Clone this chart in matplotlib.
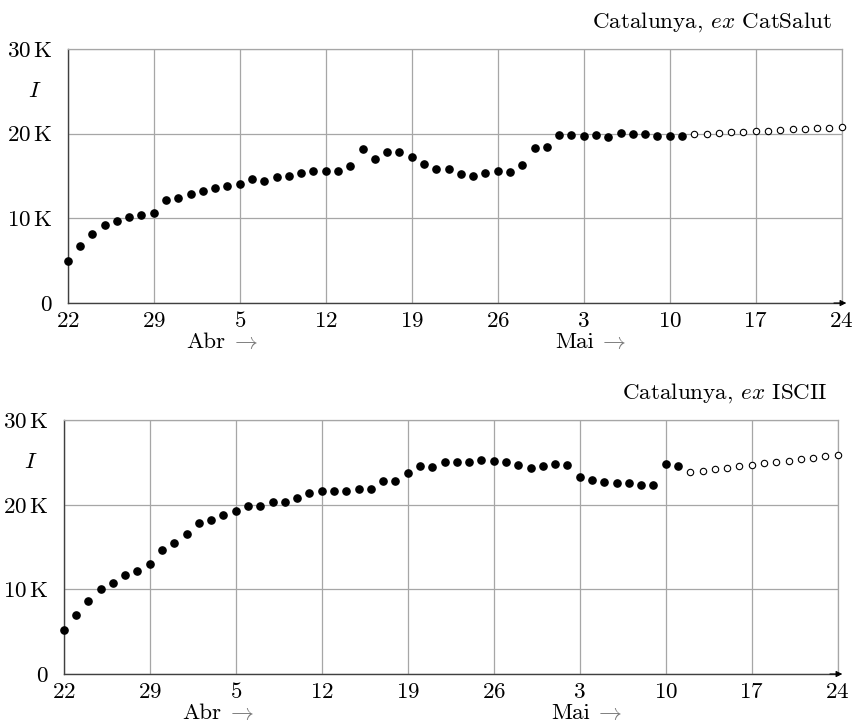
import numpy as np
import pandas as pd
import matplotlib
matplotlib.use('agg')
import matplotlib.pyplot as plt

plt.rcParams['font.family'] = ['cmr10', 'DejaVu Serif']
plt.rcParams['mathtext.fontset'] = 'cm'
plt.rcParams['axes.formatter.use_mathtext'] = True

start = '2020-03-22'
end = '2020-05-24'

# CatSalut: observed values then projection
cat_obs = [4960, 6770, 8150, 9210, 9690, 10120, 10350, 10670, 12130, 12440,
           12840, 13270, 13580, 13860, 14020, 14690, 14370, 14840, 15040, 15350,
           15630, 15590, 15590, 16140, 18230, 16970, 17800, 17840, 17210, 16420,
           15830, 15790, 15280, 15040, 15320, 15590, 15510, 16300, 18270, 18470,
           19880, 19880, 19690, 19800, 19610, 20080, 20000, 19920, 19760, 19720,
           19720]
cat_proj = [19920, 20000, 20080, 20160, 20200, 20280, 20350, 20430, 20510,
            20550, 20630, 20670, 20750]

# ISCII: observed values then projection
isc_obs = [5160, 6940, 8630, 10090, 10800, 11750, 12140, 12970, 14670, 15450,
           16520, 17820, 18210, 18840, 19320, 19830, 19870, 20380, 20340, 20850,
           21450, 21600, 21600, 21600, 21840, 21840, 22830, 22870, 23730, 24560,
           24480, 25110, 25070, 25070, 25270, 25190, 25070, 24720, 24320, 24640,
           24840, 24720, 23300, 22980, 22710, 22590, 22590, 22390, 22310, 24840,
           24600]
isc_proj = [23850, 24050, 24210, 24360, 24560, 24720, 24920, 25070, 25230,
            25390, 25590, 25740, 25940]

yticks = [0, 10000, 20000, 30000]
ytick_labels = ['$0$', r'$10\,\mathrm{K}$', r'$20\,\mathrm{K}$', r'$30\,\mathrm{K}$']
month_starts = ['2020-04-01', '2020-05-01']
month_names = ['Abr', 'Mai']

panels = [
    (cat_obs, cat_proj, 'Catalunya, $ex$ CatSalut', [0.0793, 0.5826, 0.9063, 0.3499]),
    (isc_obs, isc_proj, 'Catalunya, $ex$ ISCII', [0.0746, 0.0716, 0.9063, 0.3495]),
]

FS = 16.6
grid_c = '#a6a6a6'

fig = plt.figure(figsize=(8.54, 7.26), dpi=100)

for obs, proj, title, rect in panels:
    ax = fig.add_axes(rect)
    d_obs = pd.date_range(start, periods=len(obs))
    d_proj = pd.date_range(d_obs[-1] + pd.Timedelta(days=1), periods=len(proj))
    ax.plot(d_obs, obs, 'o', color='black', ms=5.2, zorder=3, clip_on=False)
    ax.plot(d_proj, proj, 'o', mfc='white', mec='black', ms=4.6, mew=0.8,
            zorder=3, clip_on=False)

    xt = pd.date_range(start, end, freq='7D')
    ax.set_xticks(xt)
    ax.set_xticklabels(['$%d$' % d.day for d in xt], fontsize=FS)
    ax.set_xlim(pd.Timestamp(start), pd.Timestamp(end))
    ax.set_yticks(yticks)
    ax.set_yticklabels(ytick_labels, fontsize=FS)
    ax.set_ylim(0, 30000)
    ax.tick_params(length=0, pad=6)
    ax.tick_params(axis='y', pad=11)
    ax.grid(True, color=grid_c, lw=0.9)
    ax.set_axisbelow(True)
    for s in ['top', 'right']:
        ax.spines[s].set_color(grid_c)
        ax.spines[s].set_linewidth(0.9)
    for s in ['left', 'bottom']:
        ax.spines[s].set_color('#404040')
        ax.spines[s].set_linewidth(1.0)

    # arrow at the end of the time axis
    ax.annotate('', xy=(1.006, 0), xytext=(0.99, 0), xycoords='axes fraction',
                arrowprops=dict(arrowstyle='-|>', color='black', lw=0.8,
                                mutation_scale=9, shrinkA=0, shrinkB=0))

    for m, name in zip(month_starts, month_names):
        ax.annotate(name, xy=(pd.Timestamp(m), 0), xycoords=('data', 'axes fraction'),
                    xytext=(-4, -29), textcoords='offset pixels',
                    ha='left', va='top', fontsize=FS)
        ax.annotate(r'$\rightarrow$', xy=(pd.Timestamp(m), 0),
                    xycoords=('data', 'axes fraction'),
                    xytext=(39, -29), textcoords='offset pixels',
                    ha='left', va='top', fontsize=FS, color='#7a7a7a')

    ax.text(-0.042, 25000, '$I$', transform=ax.get_yaxis_transform(),
            ha='center', va='center', fontsize=FS)
    ax.text(0.987, 1.06, title, transform=ax.transAxes, ha='right',
            va='bottom', fontsize=FS)

plt.savefig('out.png', dpi=100)
